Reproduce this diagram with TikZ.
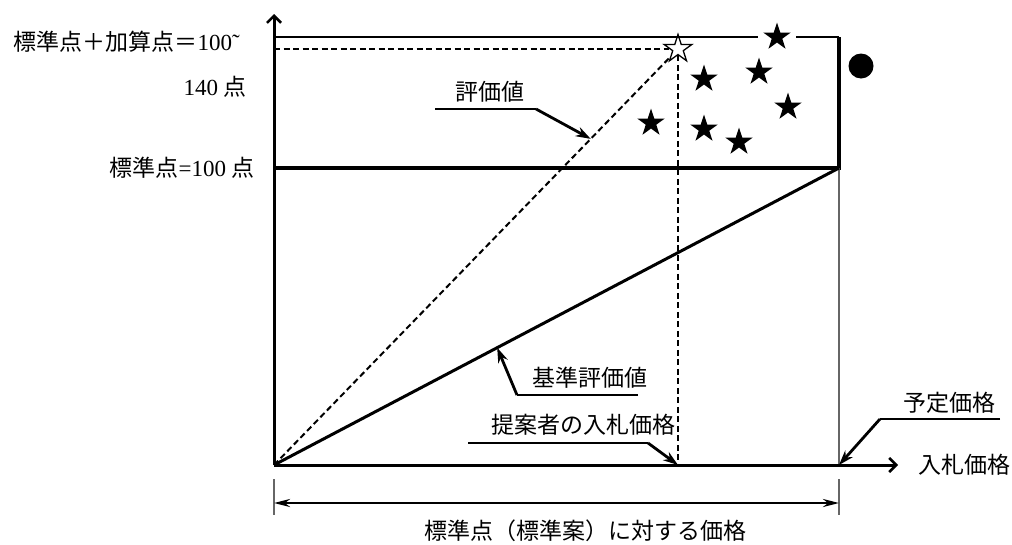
\documentclass[tikz,border=0pt]{standalone}
\usepackage{fontspec}
\setmainfont{Liberation Serif}
\newfontfamily\jpfont{Noto Sans CJK JP}
\usetikzlibrary{arrows.meta, shapes.geometric}

\begin{document}
\begin{tikzpicture}[x=1pt, y=-1pt,
    every node/.style={inner sep=0pt, font=\fontsize{23}{26}\selectfont},
    axis/.style={line width=3pt, -{Straight Barb[length=7pt, width=14pt, line width=2.6pt]}},
    boldline/.style={line width=4.4pt},
    fineline/.style={line width=1.6pt},
    greyline/.style={line width=1.8pt, black!60},
    dashline/.style={line width=2pt, dash pattern=on 6pt off 3.5pt},
    leader/.style={line width=2.8pt, -{Stealth[length=15pt, width=10pt]}},
    underl/.style={line width=1.6pt},
    dimarrow/.style={line width=2.6pt, {Stealth[length=16pt, width=8pt]}-{Stealth[length=16pt, width=8pt]}},
    fullstar/.style={star, star points=5, star point ratio=2.618, minimum size=29pt, fill=black},
    openstar/.style={fullstar, fill=white, draw=black, line width=1.3pt}]
\useasboundingbox (0,0) rectangle (1012,544);

% points of the chart
\coordinate (O) at (274,465);
\coordinate (ymax) at (274,14);
\coordinate (xmax) at (898,465);
\coordinate (T) at (839,37);
\coordinate (S) at (839,168);
\coordinate (P) at (839,465);
\coordinate (B) at (678,465);

% proposals
\node[openstar] (E) at (678,49) {};
\node[fullstar] (s1) at (777,37) {};
\node[fullstar] (s2) at (704,79) {};
\node[fullstar] (s3) at (759,72) {};
\node[fullstar] (s4) at (788,107) {};
\node[fullstar] (s5) at (651,123) {};
\node[fullstar] (s6) at (704,129) {};
\node[fullstar] (s7) at (739,142) {};
\node[circle, fill=black, minimum size=25pt] (dot) at (861,66) {};

% frame
\draw[fineline] (O |- T) -- ([xshift=-19pt]s1.center);
\draw[fineline] ([xshift=19pt]s1.center) -- (T);
\draw[boldline] (T) -- (S) -- (O |- S);
\draw[greyline] (S) -- (P);
\draw[line width=3pt] (O) -- node[pos=0.395, coordinate] (kjpt) {} (S);
\draw[dashline] (O) -- node[pos=0.8, coordinate] (evpt) {} (E);
\draw[dashline] (O |- E) -- (E);
\draw[dashline] (E) -- (B);
\draw[axis] (O) -- (ymax);
\draw[axis] (O) -- (xmax);

% axis labels
\node[anchor=east] (top) at (240,42) {{\jpfont 標準点＋加算点＝}100˜};
\node[anchor=east] (p140) at (247,87) {140 {\jpfont 点}};
\node[anchor=east] (p100) at (255,168) {{\jpfont 標準点}=100 {\jpfont 点}};
\node (xlab) at (964,465) {\jpfont 入札価格};

% leaders
\node (hyoka) at (490,92) {\jpfont 評価値};
\coordinate (hyokaL) at (435,109);
\coordinate (hyokaR) at (536,109);
\draw[underl] (hyokaL) -- (hyokaR);
\draw[leader] (hyokaR) -- (evpt);

\node (kijun) at (590,378) {\jpfont 基準評価値};
\coordinate (kijunL) at (517,395);
\coordinate (kijunR) at (638,395);
\draw[underl] (kijunR) -- (kijunL);
\draw[leader] (kijunL) -- (kjpt);

\node (teian) at (583,425) {\jpfont 提案者の入札価格};
\coordinate (teianL) at (468,443);
\coordinate (teianR) at (648,443);
\draw[underl] (teianL) -- (teianR);
\draw[leader] (teianR) -- (B);

\node (yotei) at (949,403) {\jpfont 予定価格};
\coordinate (yoteiL) at (880,419);
\coordinate (yoteiR) at (1000,419);
\draw[underl] (yoteiR) -- (yoteiL);
\draw[leader] (yoteiL) -- (P);

% dimension
\coordinate (dL) at (274,503);
\coordinate (dR) at (839,503);
\draw[greyline] ([yshift=24pt]dL) -- ([yshift=-12pt]dL);
\draw[greyline] ([yshift=24pt]dR) -- ([yshift=-12pt]dR);
\draw[dimarrow] (dL) -- (dR);
\node (dimlab) at (585,531) {\jpfont 標準点（標準案）に対する価格};
\end{tikzpicture}
\end{document}
